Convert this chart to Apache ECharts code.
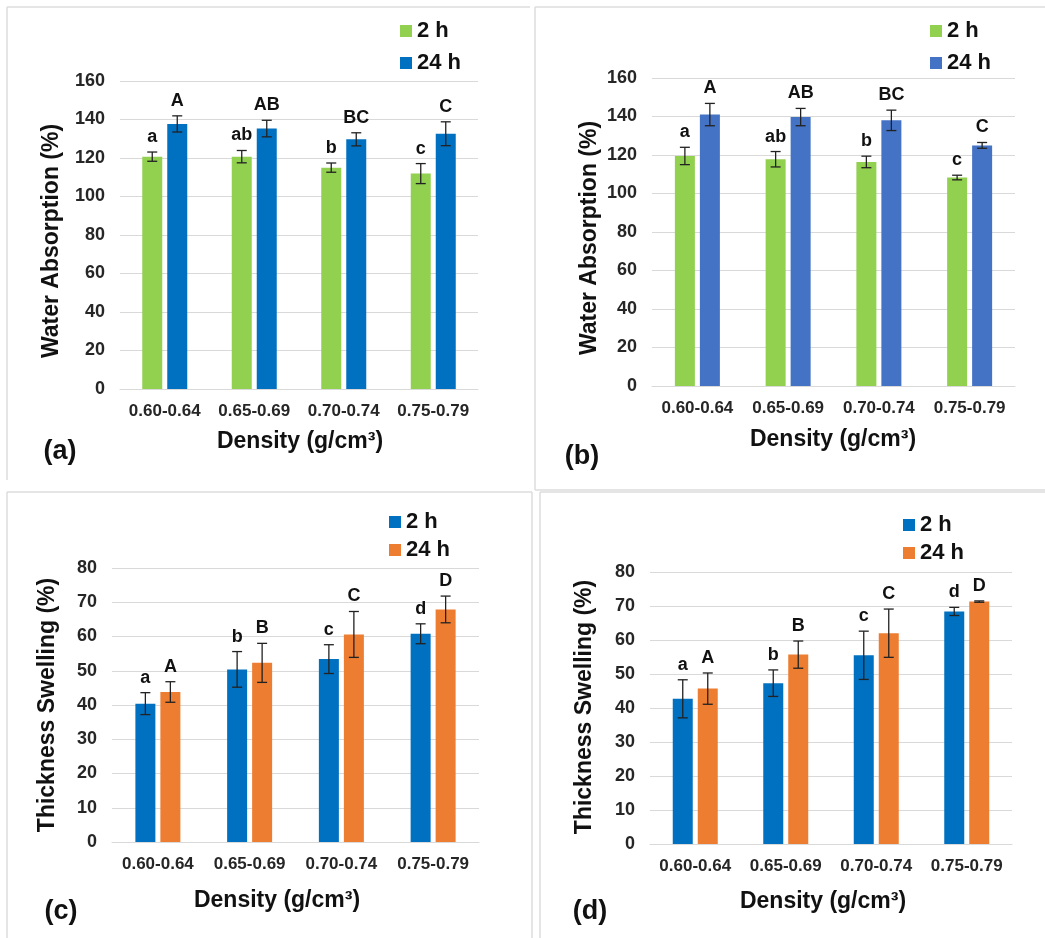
<!DOCTYPE html>
<html>
<head>
<meta charset="utf-8">
<script src="https://cdn.jsdelivr.net/npm/echarts@6/dist/echarts.min.js"></script>
<style>
  html, body { margin: 0; padding: 0; background: #fff; }
  #chart { width: 1045px; height: 938px; }
</style>
</head>
<body>
<div id="chart"></div>
<script>
// density classes shared by all four panels
var categories = ['0.60-0.64', '0.65-0.69', '0.70-0.74', '0.75-0.79'];

// (a) water absorption, board type 1
var waA2h = [120.7, 120.7, 115.0, 111.9];
var waA2hErr = [2.4, 3.2, 2.4, 5.2];
var waA24h = [137.7, 135.3, 129.7, 132.6];
var waA24hErr = [4.2, 4.3, 3.4, 6.2];

// (b) water absorption, board type 2
var waB2h = [119.5, 117.8, 116.4, 108.3];
var waB2hErr = [4.5, 4.0, 3.0, 1.2];
var waB24h = [141.0, 139.7, 138.0, 125.0];
var waB24hErr = [5.8, 4.5, 5.3, 1.5];

// (c) thickness swelling, board type 1
var tsC2h = [40.4, 50.4, 53.4, 60.8];
var tsC2hErr = [3.2, 5.2, 4.2, 2.9];
var tsC24h = [43.8, 52.3, 60.6, 67.9];
var tsC24hErr = [3.0, 5.7, 6.7, 3.9];

// (d) thickness swelling, board type 2
var tsD2h = [42.7, 47.3, 55.5, 68.4];
var tsD2hErr = [5.6, 3.9, 7.1, 1.2];
var tsD24h = [45.7, 55.7, 62.0, 71.3];
var tsD24hErr = [4.6, 4.0, 7.1, 0.2];

// significance letters
var waLetters2h = ['a', 'ab', 'b', 'c'];
var waLetters24h = ['A', 'AB', 'BC', 'C'];
var tsLetters2h = ['a', 'b', 'c', 'd'];
var tsLetters24h = ['A', 'B', 'C', 'D'];

var FONT = '"Liberation Sans", Arial, sans-serif';
var GREEN = '#92D050', BLUE_A = '#0070C0', BLUE_B = '#4472C4', ORANGE = '#ED7D31';

var chart = echarts.init(document.getElementById('chart'));

var grids = [
    { left: 120, top: 81, width: 358, height: 308 },
    { left: 652, top: 78, width: 363, height: 308 },
    { left: 112, top: 568, width: 367, height: 274 },
    { left: 650, top: 572, width: 362, height: 272 }
];

function xAxisFor(i) {
    return {
        type: 'category', gridIndex: i, data: categories,
        axisLine: { lineStyle: { color: '#d9d9d9', width: 1 } },
        axisTick: { show: false },
        axisLabel: { color: '#262626', fontFamily: FONT, fontWeight: 'bold', fontSize: 17, margin: 14, interval: 0 }
    };
}

function yAxisFor(i, max, step) {
    return {
        type: 'value', gridIndex: i, min: 0, max: max, interval: step,
        axisLine: { show: false }, axisTick: { show: false },
        axisLabel: { color: '#262626', fontFamily: FONT, fontWeight: 'bold', fontSize: 18, margin: 15 },
        splitLine: { lineStyle: { color: '#d9d9d9', width: 1 } }
    };
}

function barSeries(i, name, color, values) {
    return {
        type: 'bar', name: name, xAxisIndex: i, yAxisIndex: i,
        data: values, barWidth: 20, barGap: '25%',
        itemStyle: { color: color }
    };
}

// error bars plus letter above each bar
function errSeries(i, values, errs, letters, offset) {
    return {
        type: 'custom', xAxisIndex: i, yAxisIndex: i, z: 10, silent: true,
        encode: { x: 0, y: 1 },
        data: values.map(function(v, k) { return [k, v, errs[k]]; }),
        renderItem: function(params, api) {
            var idx = api.value(0), v = api.value(1), e = api.value(2);
            var top = api.coord([idx, v + e]);
            var bot = api.coord([idx, v - e]);
            var x = top[0] + offset;
            var st = { stroke: '#222', lineWidth: 1.3 };
            return {
                type: 'group',
                children: [
                    { type: 'line', shape: { x1: x, y1: top[1], x2: x, y2: bot[1] }, style: st },
                    { type: 'line', shape: { x1: x - 5, y1: top[1], x2: x + 5, y2: top[1] }, style: st },
                    { type: 'line', shape: { x1: x - 5, y1: bot[1], x2: x + 5, y2: bot[1] }, style: st },
                    { type: 'text', style: {
                        text: letters[params.dataIndex], x: x, y: top[1] - 15,
                        align: 'center', verticalAlign: 'middle',
                        font: 'bold 18px ' + FONT, fill: '#111'
                    } }
                ]
            };
        }
    };
}

function legendFor(names, colors, left, top, gap) {
    return {
        orient: 'vertical', left: left, top: top, itemGap: gap, padding: 0,
        itemWidth: 12, itemHeight: 12, icon: 'rect', selectedMode: false,
        data: names.map(function(n, k) { return { name: n, itemStyle: { color: colors[k] } }; }),
        formatter: function(name) { return name.split('#')[0]; },
        textStyle: { fontFamily: FONT, fontWeight: 'bold', fontSize: 22, lineHeight: 22, color: '#111' }
    };
}

function txt(text, x, y, size, rot) {
    return {
        type: 'text', x: x, y: y, rotation: rot || 0,
        style: { text: text, font: 'bold ' + size + 'px ' + FONT, fill: '#111', align: 'center', verticalAlign: 'middle' }
    };
}

function line(x1, y1, x2, y2) {
    return { type: 'line', shape: { x1: x1, y1: y1, x2: x2, y2: y2 }, style: { stroke: '#dcdcdc', lineWidth: 1.5 }, silent: true };
}

var option = {
    animation: false,
    grid: grids,
    xAxis: [xAxisFor(0), xAxisFor(1), xAxisFor(2), xAxisFor(3)],
    yAxis: [yAxisFor(0, 160, 20), yAxisFor(1, 160, 20), yAxisFor(2, 80, 10), yAxisFor(3, 80, 10)],
    legend: [
        legendFor(['2 h#a', '24 h#a'], [GREEN, BLUE_A], 400, 20, 10),
        legendFor(['2 h#b', '24 h#b'], [GREEN, BLUE_B], 930, 20, 10),
        legendFor(['2 h#c', '24 h#c'], [BLUE_A, ORANGE], 389, 511, 6),
        legendFor(['2 h#d', '24 h#d'], [BLUE_A, ORANGE], 903, 514, 6)
    ],
    series: [
        barSeries(0, '2 h#a', GREEN, waA2h),
        barSeries(0, '24 h#a', BLUE_A, waA24h),
        barSeries(1, '2 h#b', GREEN, waB2h),
        barSeries(1, '24 h#b', BLUE_B, waB24h),
        barSeries(2, '2 h#c', BLUE_A, tsC2h),
        barSeries(2, '24 h#c', ORANGE, tsC24h),
        barSeries(3, '2 h#d', BLUE_A, tsD2h),
        barSeries(3, '24 h#d', ORANGE, tsD24h),
        errSeries(0, waA2h, waA2hErr, waLetters2h, -12.5),
        errSeries(0, waA24h, waA24hErr, waLetters24h, 12.5),
        errSeries(1, waB2h, waB2hErr, waLetters2h, -12.5),
        errSeries(1, waB24h, waB24hErr, waLetters24h, 12.5),
        errSeries(2, tsC2h, tsC2hErr, tsLetters2h, -12.5),
        errSeries(2, tsC24h, tsC24hErr, tsLetters24h, 12.5),
        errSeries(3, tsD2h, tsD2hErr, tsLetters2h, -12.5),
        errSeries(3, tsD24h, tsD24hErr, tsLetters24h, 12.5)
    ],
    graphic: [
        // panel frames
        line(7, 7, 530, 7), line(7, 7, 7, 480),
        line(535, 7, 1045, 7), line(535, 7, 535, 490), line(535, 490, 1045, 490),
        line(7, 492, 532, 492), line(7, 492, 7, 938), line(532, 492, 532, 938),
        line(540, 492, 1045, 492), line(540, 492, 540, 938),
        // axis titles
        txt('Water Absorption (%)', 52, 241, 23, Math.PI / 2),
        txt('Water Absorption (%)', 590, 238, 23, Math.PI / 2),
        txt('Thickness Swelling (%)', 48, 705, 23, Math.PI / 2),
        txt('Thickness Swelling (%)', 585, 707, 23, Math.PI / 2),
        txt('Density (g/cm³)', 300, 442, 23),
        txt('Density (g/cm³)', 833, 440, 23),
        txt('Density (g/cm³)', 277, 901, 23),
        txt('Density (g/cm³)', 823, 902, 23),
        // panel labels
        txt('(a)', 60, 452, 27),
        txt('(b)', 582, 457, 27),
        txt('(c)', 61, 912, 27),
        txt('(d)', 590, 912, 27)
    ]
};

chart.setOption(option);
</script>
</body>
</html>
